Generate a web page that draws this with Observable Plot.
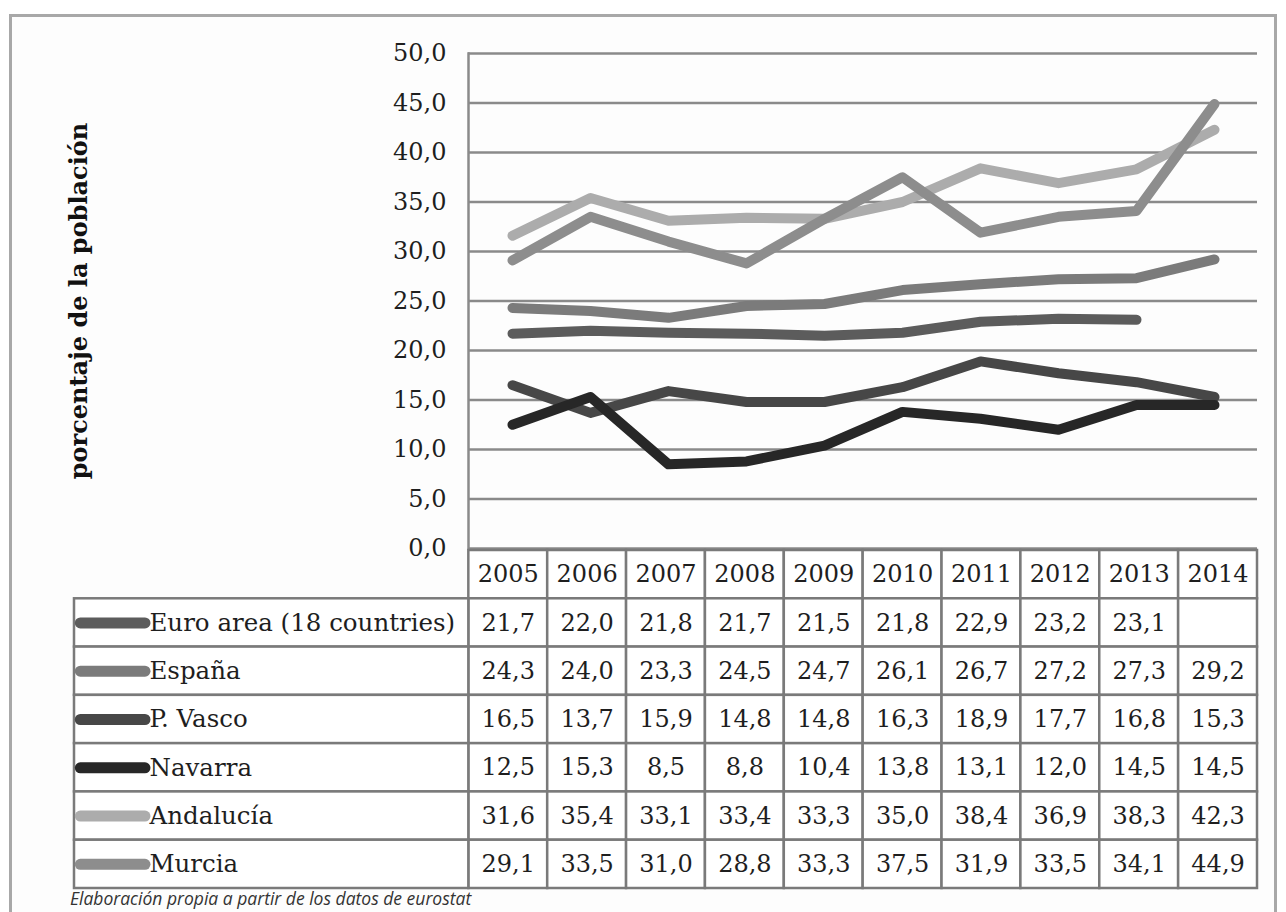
<!DOCTYPE html>
<html><head><meta charset="utf-8">
<script src="https://cdn.jsdelivr.net/npm/d3@7"></script>
<script src="https://cdn.jsdelivr.net/npm/@observablehq/plot@0.6"></script>
<style>
html,body{margin:0;padding:0;background:#fff;width:1286px;height:912px;overflow:hidden;}
#frame{position:absolute;left:9px;top:14px;width:1268px;height:940px;border:3px solid #a8a8a8;background:#fdfdfd;box-sizing:border-box;}
#chart{position:absolute;left:0;top:0;}
#table{position:absolute;left:0;top:548px;}
#caption{position:absolute;left:70px;top:887px;font-family:"Open Sans";font-style:italic;font-size:17.5px;line-height:22px;color:#333;white-space:nowrap;}
</style></head><body>
<div id="frame"></div>
<div id="chart"></div>
<div id="table"></div>
<div id="caption">Elaboración propia a partir de los datos de eurostat</div>
<script>
// ---- data ----
const years = [2005, 2006, 2007, 2008, 2009, 2010, 2011, 2012, 2013, 2014];
const seriesNames = ["Euro area (18 countries)", "España", "P. Vasco", "Navarra", "Andalucía", "Murcia"];
const euroArea  = [21.7, 22.0, 21.8, 21.7, 21.5, 21.8, 22.9, 23.2, 23.1, null];
const espana    = [24.3, 24.0, 23.3, 24.5, 24.7, 26.1, 26.7, 27.2, 27.3, 29.2];
const pVasco    = [16.5, 13.7, 15.9, 14.8, 14.8, 16.3, 18.9, 17.7, 16.8, 15.3];
const navarra   = [12.5, 15.3, 8.5, 8.8, 10.4, 13.8, 13.1, 12.0, 14.5, 14.5];
const andalucia = [31.6, 35.4, 33.1, 33.4, 33.3, 35.0, 38.4, 36.9, 38.3, 42.3];
const murcia    = [29.1, 33.5, 31.0, 28.8, 33.3, 37.5, 31.9, 33.5, 34.1, 44.9];
const seriesValues = [euroArea, espana, pVasco, navarra, andalucia, murcia];
const seriesColors = ["#5c5c5c", "#7b7b7b", "#474747", "#272727", "#acacac", "#8d8d8d"];
const yTicks = [0, 5, 10, 15, 20, 25, 30, 35, 40, 45, 50];
const yLabel = "porcentaje de la población";

// ---- helpers ----
const fmt = v => v.toFixed(1).replace(".", ",");
const lineData = seriesNames.flatMap((name, s) =>
  years.map((year, i) => ({name, year, value: seriesValues[s][i]})));

// ---- chart ----
const chart = Plot.plot({
  width: 1286, height: 560,
  marginLeft: 468, marginRight: 29, marginTop: 53, marginBottom: 12,
  style: {background: "transparent", fontFamily: "DejaVu Serif", overflow: "visible"},
  x: {type: "point", domain: years, padding: 0.5, axis: null},
  y: {domain: [0, 50]},
  color: {domain: seriesNames, range: seriesColors},
  marks: [
    Plot.ruleY(yTicks, {stroke: "#8a8a8a", strokeWidth: 2.5}),
    Plot.frame({anchor: "left", stroke: "#8a8a8a", strokeWidth: 2.5}),
    Plot.axisY({ticks: yTicks, tickFormat: fmt, tickSize: 0, tickPadding: 22, fontSize: 24,
                fill: "#1e1e1e", fontWeight: 500, label: null}),
    Plot.text([yLabel], {frameAnchor: "left", rotate: -90, dx: -389, text: d => d,
                textAnchor: "middle", lineAnchor: "middle",
                fontSize: 24, fontWeight: "bold", fontFamily: "DejaVu Serif", fill: "#111"}),
    Plot.lineY(lineData, {x: "year", y: "value", z: "name", stroke: "name",
                strokeWidth: 10, strokeLinecap: "round", strokeLinejoin: "round"})
  ]
});
document.getElementById("chart").append(chart);

// ---- table (columns in year-column units, rows in row units) ----
const labelSpan = 5;           // width of legend column, in year columns
const swatchFrom = 0.08, swatchTo = 0.9;
const cells = [];
for (let r = 0; r <= seriesNames.length; r++) {
  years.forEach((year, c) => {
    const v = r === 0 ? null : seriesValues[r - 1][c];
    cells.push({row: r, col: c, text: r === 0 ? String(year) : (v == null ? "" : fmt(v))});
  });
}
const labelCells = seriesNames.map((name, s) => ({row: s + 1, name}));

const table = Plot.plot({
  width: 1286, height: 344,
  marginLeft: 74, marginRight: 29, marginTop: 2, marginBottom: 4,
  style: {background: "transparent", fontFamily: "DejaVu Serif", overflow: "visible"},
  x: {type: "linear", domain: [-labelSpan, years.length], axis: null},
  y: {type: "linear", domain: [0, seriesNames.length + 1], reverse: true, axis: null},
  color: {domain: seriesNames, range: seriesColors},
  marks: [
    Plot.rect(cells, {x1: "col", x2: d => d.col + 1, y1: "row", y2: d => d.row + 1,
                      fill: "white", stroke: "#7a7a7a", strokeWidth: 2.5}),
    Plot.rect(labelCells, {x1: () => -labelSpan, x2: () => 0, y1: "row", y2: d => d.row + 1,
                      fill: "white", stroke: "#7a7a7a", strokeWidth: 2.5}),
    Plot.text(cells, {x: d => d.col + 0.5, y: d => d.row + 0.5, text: "text",
                      fontSize: 24, fill: "#1e1e1e"}),
    Plot.ruleY(labelCells, {y: d => d.row + 0.5, x1: () => -labelSpan + swatchFrom,
                      x2: () => -labelSpan + swatchTo, stroke: "name",
                      strokeWidth: 11, strokeLinecap: "round"}),
    Plot.text(labelCells, {x: () => -labelSpan + swatchTo, y: d => d.row + 0.5, text: "name",
                      textAnchor: "start", dx: 4, fontSize: 24.5, fill: "#1e1e1e"})
  ]
});
document.getElementById("table").append(table);
</script>
</body></html>
